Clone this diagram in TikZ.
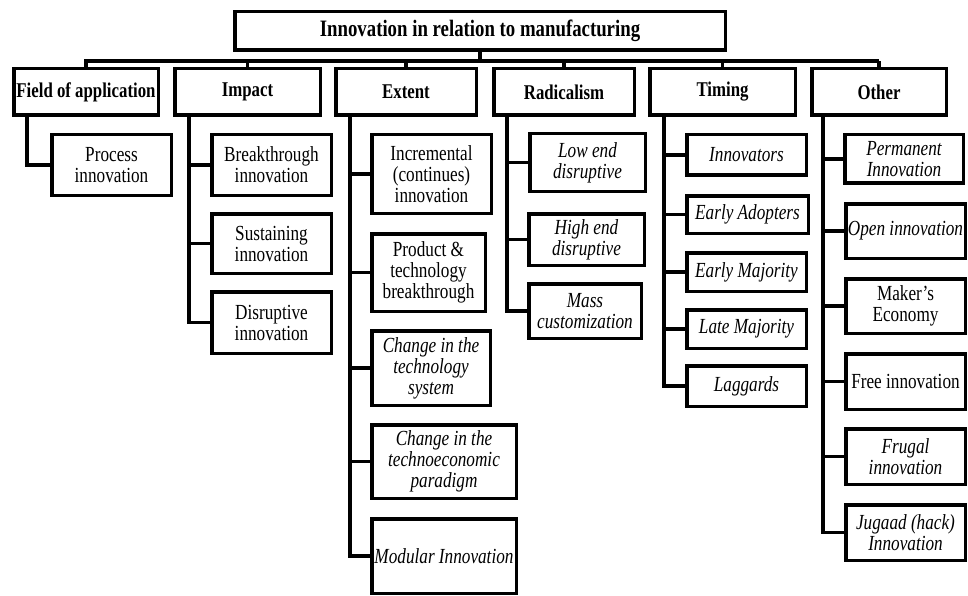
\documentclass[tikz,border=0pt]{standalone}
\usepackage{fontspec}
\setmainfont{Liberation Serif}[FakeStretch=0.80]
\usepackage{tikz}
\usetikzlibrary{positioning}

\tikzset{
  box/.style={draw, line width=3.5pt, align=center, inner sep=1pt,
    font=\fontsize{21.5}{21}\selectfont},
  title/.style={font=\fontsize{23.5}{24}\selectfont\bfseries},
  head/.style={font=\fontsize{21}{21}\selectfont\bfseries},
  ital/.style={font=\fontsize{21.5}{21}\selectfont\itshape},
  link/.style={line width=3.2pt},
}
% \Cell[style]{name}{x1}{y1}{x2}{y2}{label}
\newcommand{\Cell}[7][]{%
  \node[box,#1,minimum width={(#5-#3-3.5)*1pt},minimum height={(#6-#4-3.5)*1pt}]
    (#2) at ({(#3+#5)/2},{(#4+#6)/2}) {#7};}

\begin{document}
\begin{tikzpicture}[x=1pt,y=-1pt]
%
\useasboundingbox (0,0) rectangle (968,596);
%
\Cell[title]{top}{233}{10}{727}{52}{Innovation in relation to manufacturing}
%
\Cell[head]{field}{12}{67}{160}{117}{Field of application}
\Cell[head]{impact}{173}{67}{322}{117}{Impact}
\Cell[head]{extent}{334}{67}{478}{117}{Extent}
\Cell[head]{radical}{492}{67}{636}{117}{Radicalism}
\Cell[head]{timing}{648}{67}{797}{117}{Timing}
\Cell[head]{other}{810}{67}{948}{117}{Other}
%
\Cell{f1}{50}{133}{173}{197}{Process\\innovation}
%
\Cell{i1}{210}{133}{333}{197}{Breakthrough\\innovation}
\Cell{i2}{210}{212}{333}{275}{Sustaining\\innovation}
\Cell{i3}{210}{290}{333}{355}{Disruptive\\innovation}
%
\Cell{e1}{370}{133}{493}{215}{Incremental\\(continues)\\innovation}
\Cell{e2}{370}{232}{487}{313}{Product \&\\technology\\breakthrough}
\Cell[ital]{e3}{370}{329}{492}{407}{Change in the\\technology\\system}
\Cell[ital]{e4}{370}{423}{518}{500}{Change in the\\technoeconomic\\paradigm}
\Cell[ital]{e5}{370}{517}{518}{595}{Modular Innovation}
%
\Cell[ital]{r1}{528}{132}{647}{193}{Low end\\disruptive}
\Cell[ital]{r2}{527}{212}{646}{267}{High end\\disruptive}
\Cell[ital]{r3}{527}{282}{643}{340}{Mass\\customization}
%
\Cell[ital]{t1}{685}{133}{808}{177}{Innovators}
\Cell[ital]{t2}{685}{194}{810}{235}{Early Adopters}
\Cell[ital]{t3}{685}{251}{808}{293}{Early Majority}
\Cell[ital]{t4}{685}{308}{808}{350}{Late Majority}
\Cell[ital]{t5}{685}{364}{808}{408}{Laggards}
%
\Cell[ital]{o1}{843}{133}{965}{185}{Permanent\\Innovation}
\Cell[ital]{o2}{844}{202}{967}{260}{Open innovation}
\Cell{o3}{844}{277}{967}{335}{Maker’s\\Economy}
\Cell{o4}{844}{352}{967}{411}{Free innovation}
\Cell[ital]{o5}{844}{427}{967}{486}{Frugal\\innovation}
\Cell[ital]{o6}{844}{503}{967}{562}{Jugaad (hack)\\Innovation}
%
\coordinate (bus) at (0,61);
\draw[link] (top.south) -- (top.south |- bus);
\draw[link] (field.north) |- (other.north |- bus);
\foreach \n in {impact,extent,radical,timing,other}
  \draw[link] (\n.north) -- (\n.north |- bus);
%
\draw[link] ([xshift=15pt]field.south west) |- (f1.west);
\foreach \c in {i1,i2,i3}
  \draw[link] ([xshift=16pt]impact.south west) |- (\c.west);
\foreach \c in {e1,e2,e3,e4,e5}
  \draw[link] ([xshift=16pt]extent.south west) |- (\c.west);
\foreach \c in {r1,r2,r3}
  \draw[link] ([xshift=15pt]radical.south west) |- (\c.west);
\foreach \c in {t1,t2,t3,t4,t5}
  \draw[link] ([xshift=16pt]timing.south west) |- (\c.west);
\foreach \c in {o1,o2,o3,o4,o5,o6}
  \draw[link] ([xshift=13pt]other.south west) |- (\c.west);
%
\end{tikzpicture}
\end{document}
